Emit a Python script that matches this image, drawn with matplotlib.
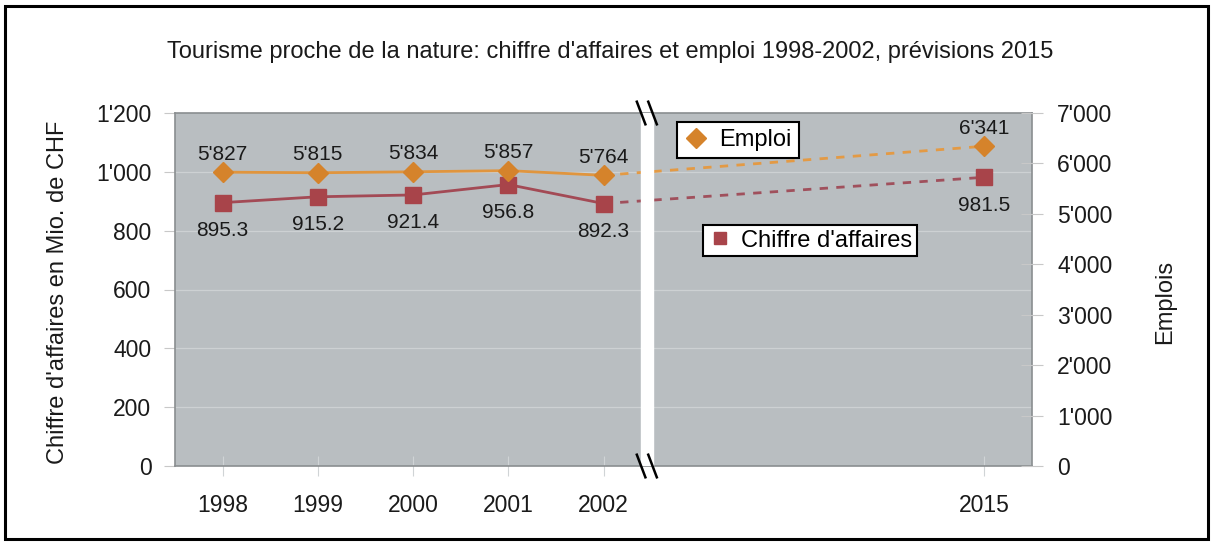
import matplotlib
matplotlib.use("Agg")
import matplotlib.pyplot as plt
from matplotlib.patches import Rectangle
from matplotlib.lines import Line2D

plt.rcParams['font.family'] = ['Liberation Sans', 'DejaVu Sans']

# ---- data ----
years = ["1998", "1999", "2000", "2001", "2002", "2015"]
positions = [0, 1, 2, 3, 4, 8]
chiffre = [895.3, 915.2, 921.4, 956.8, 892.3, 981.5]
emploi = [5827, 5815, 5834, 5857, 5764, 6341]
left_ticks = [0, 200, 400, 600, 800, 1000, 1200]
right_ticks = [0, 1000, 2000, 3000, 4000, 5000, 6000, 7000]

title = "Tourisme proche de la nature: chiffre d'affaires et emploi 1998-2002, prévisions 2015"
ylabel_left = "Chiffre d'affaires en Mio. de CHF"
ylabel_right = "Emplois"


def fmt(v):
    if isinstance(v, float) and v != int(v):
        return f"{v:.1f}"
    return f"{int(v):,}".replace(",", "'")


W, H = 1214, 545
fig = plt.figure(figsize=(W / 100, H / 100), dpi=100)
fig.patch.set_facecolor("white")

# figure frame
fig.patches.append(Rectangle((5 / W, 6 / H), 1203 / W, 533 / H, transform=fig.transFigure,
                             fill=False, edgecolor="black", linewidth=2.2, zorder=0))

ax = fig.add_axes([175 / W, 1 - 466 / H, 857 / W, 353 / H])
ax.set_facecolor("#b9bec1")
ax.set_xlim(-0.5, 8.5)
ax.set_ylim(0, 1200)
ax.set_yticks(left_ticks)
ax.set_yticklabels([fmt(v) for v in left_ticks])
ax.set_xticks(positions)
ax.set_xticklabels(years)
for y in left_ticks[1:-1]:
    ax.axhline(y, color="#cdd1d3", lw=0.9, zorder=1)

for s in ax.spines.values():
    s.set_color("#8a8e90")
    s.set_linewidth(1.2)

ax.tick_params(axis="y", direction="out", length=8, color="#c8c8c8", labelsize=16.5, pad=9,
               labelcolor="#1a1a1a")
ax.tick_params(axis="x", direction="inout", length=14, color="#d0d4d6", labelsize=16.5, pad=13,
               labelcolor="#1a1a1a")

ax2 = ax.twinx()
ax2.patch.set_visible(False)
ax2.set_ylim(0, 7000)
ax2.set_yticks(right_ticks)
ax2.set_yticklabels([fmt(v) for v in right_ticks])
ax2.tick_params(axis="y", direction="inout", length=16, color="#c8c8c8", labelsize=16.5, pad=10,
                labelcolor="#1a1a1a")
for s in ax2.spines.values():
    s.set_visible(False)

# chiffre d'affaires (left axis, drawn below)
ax.plot(positions[:5], chiffre[:5], color="#a34a55", lw=2, zorder=3)
ax.plot(positions[4:], chiffre[4:], color="#a0505c", lw=2, ls=(0, (3, 3)), zorder=3)
ax.plot(positions, chiffre, ls="none", marker="s", ms=11, color="#a8444a", zorder=4)

# emploi (right axis, drawn above)
ax2.plot(positions[:5], emploi[:5], color="#e0953e", lw=2, zorder=3)
ax2.plot(positions[4:], emploi[4:], color="#e39a45", lw=2, ls=(0, (3, 3)), zorder=3)
ax2.plot(positions, emploi, ls="none", marker="D", ms=10, color="#d5832b", zorder=4)

# break band (covers both series)
ax2.axvspan(4.39, 4.52, color="white", zorder=3.5)

# data labels
for x, v in zip(positions, emploi):
    ax2.annotate(fmt(v), (x, v), xytext=(0, 13), textcoords="offset points",
                 ha="center", va="center", fontsize=15, color="#1a1a1a", zorder=5)
for x, v in zip(positions, chiffre):
    ax.annotate(fmt(v), (x, v), xytext=(0, -20), textcoords="offset points",
                ha="center", va="center", fontsize=15, color="#1a1a1a", zorder=5)

# break marks
tr = ax2.get_xaxis_transform()
for yc in (1.0, 0.0):
    for xo in (4.35, 4.47):
        ax2.plot([xo, xo + 0.09], [yc + 0.032, yc - 0.032], transform=tr, color="black",
                 lw=1.8, clip_on=False, zorder=6)

# legends (two separate boxes)
h1 = [Line2D([], [], ls="none", marker="D", ms=10, color="#d5832b")]
h2 = [Line2D([], [], ls="none", marker="s", ms=9, color="#a8444a")]
leg1 = fig.legend(h1, ["Emploi"], loc="upper left", bbox_to_anchor=(677 / W, 1 - 122 / H),
                  fontsize=17, fancybox=False, framealpha=1, edgecolor="black",
                  borderaxespad=0, handlelength=1.0, handletextpad=0.5, borderpad=0.3)
leg1.get_frame().set_linewidth(1.5)
leg2 = fig.legend(h2, ["Chiffre d'affaires"], loc="upper left", bbox_to_anchor=(703 / W, 1 - 225 / H),
                  fontsize=17, fancybox=False, framealpha=1, edgecolor="black",
                  borderaxespad=0, handlelength=1.0, handletextpad=0.4, borderpad=0.2)
leg2.get_frame().set_linewidth(1.5)

# titles / labels
fig.text(610 / W, 1 - 52 / H, title, ha="center", va="center", fontsize=17, color="#1a1a1a")
fig.text(58 / W, 1 - 292 / H, ylabel_left, ha="center", va="center", rotation=90, fontsize=17,
         color="#1a1a1a")
fig.text(1165 / W, 1 - 302 / H, ylabel_right, ha="center", va="center", rotation=90, fontsize=17,
         color="#1a1a1a")

fig.savefig("out.png", dpi=100)
